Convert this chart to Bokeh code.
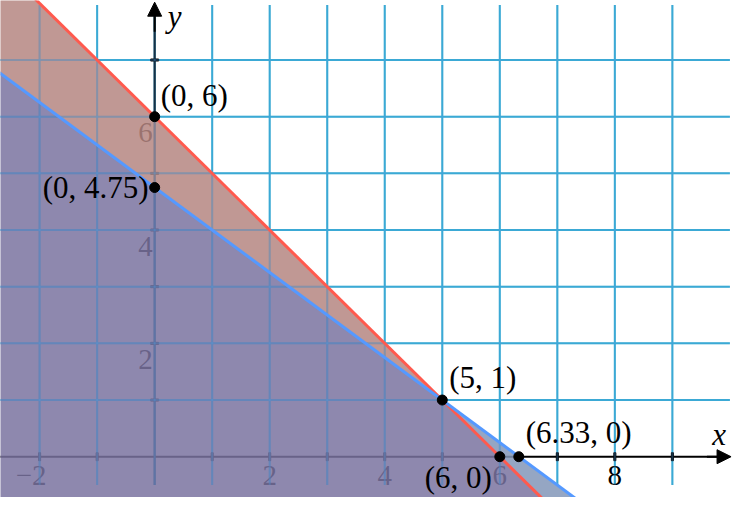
import numpy as np
from bokeh.plotting import figure
from bokeh.models import Range1d, Arrow, NormalHead
from bokeh.core.properties import value
from bokeh.embed import file_html
from bokeh.resources import INLINE

# ---- data ----
red_slope, red_intercept = -1.0, 6.0        # x + y = 6
blue_slope, blue_intercept = -0.75, 4.75    # 3x + 4y = 19
point_x = [0, 0, 5, 6, 6.33]
point_y = [6, 4.75, 1, 0, 0]
point_labels = ["(0, 6)", "(0, 4.75)", "(5, 1)", "(6, 0)", "(6.33, 0)"]
xtick_values = [-2, 2, 4, 6, 8]
xtick_labels = ["\u22122", "2", "4", "6", "8"]
ytick_values = [2, 4, 6]
ytick_labels = ["2", "4", "6"]
xtick_marks = [-2, -1, 1, 2, 3, 4, 5, 6, 7, 8, 9]
ytick_marks = [1, 2, 3, 4, 5, 6, 7]
grid_xs = list(range(-3, 10))
grid_ys = list(range(1, 8))

XMIN, XMAX, YMIN, YMAX = -2.68, 10.08, -0.72, 8.05
FONT = value("Liberation Serif")
GRID = "#36aecd"

p = figure(width=734, height=497, x_range=Range1d(XMIN, XMAX), y_range=Range1d(YMIN, YMAX),
           output_backend="svg", toolbar_location=None, min_border=0,
           x_axis_type=None, y_axis_type=None)
p.grid.visible = False
p.outline_line_color = None
p.background_fill_color = "white"

# grid
p.segment(x0=grid_xs, y0=[-0.5] * len(grid_xs), x1=grid_xs, y1=[7.97] * len(grid_xs),
          line_color=GRID, line_width=2)
p.segment(x0=[-3] * len(grid_ys), y0=grid_ys, x1=[10] * len(grid_ys), y1=grid_ys,
          line_color=GRID, line_width=2)

# axes (under fills)
p.segment(x0=[-3, 0], y0=[0, -0.5], x1=[9.9, 0], y1=[0, 7.85], line_color="black", line_width=2)
p.rect(x=xtick_marks, y=[0] * len(xtick_marks), width=2, height=8, width_units="screen",
       height_units="screen", color="black")
p.rect(x=[0] * len(ytick_marks), y=ytick_marks, width=8, height=2, width_units="screen",
       height_units="screen", color="black")

# tick labels
pos = [i for i, v in enumerate(xtick_values) if v >= 0]
neg = [i for i, v in enumerate(xtick_values) if v < 0]
p.text(x=[xtick_values[i] for i in pos], y=[0] * len(pos), text=[xtick_labels[i] for i in pos],
       text_font=FONT, text_font_size="29px", text_align="center", text_baseline="middle",
       y_offset=19, text_color="black")
p.text(x=[xtick_values[i] for i in neg], y=[0] * len(neg), text=[xtick_labels[i] for i in neg],
       text_font=FONT, text_font_size="29px", text_align="right", text_baseline="middle",
       x_offset=7, y_offset=19, text_color="black")
p.text(x=[0] * len(ytick_values), y=ytick_values, text=ytick_labels,
       text_font=FONT, text_font_size="29px", text_align="right", text_baseline="middle",
       x_offset=-2, y_offset=16, text_color="black")

# feasible regions
def red(x):
    return red_slope * x + red_intercept

def blue(x):
    return blue_slope * x + blue_intercept

xl, yb, yt = -3.0, -1.0, 9.5
xc = (blue_intercept - red_intercept) / (red_slope - blue_slope)
yc = red(xc)
x_red_b = (yb - red_intercept) / red_slope
x_blue_b = (yb - blue_intercept) / blue_slope
x_red_t = (yt - red_intercept) / red_slope

both = ([xl, xl, xc, x_red_b], [yb, blue(xl), yc, yb])
red_only = ([xl, xl, x_red_t, xc], [blue(xl), yt, yt, yc])
blue_only = ([xc, x_blue_b, x_red_b], [yc, yb, yb])
for (xs, ys), col in [(both, "#7a73a0"), (red_only, "#b58681"), (blue_only, "#8397b8")]:
    p.patch(xs, ys, fill_color=col, fill_alpha=0.85, line_color=None)

# grid overlay (visible through fills)
p.segment(x0=grid_xs, y0=[-0.5] * len(grid_xs), x1=grid_xs, y1=[7.97] * len(grid_xs),
          line_color="#4a9ee8", line_width=2, line_alpha=0.3)
p.segment(x0=[-3] * len(grid_ys), y0=grid_ys, x1=[10] * len(grid_ys), y1=grid_ys,
          line_color="#4a9ee8", line_width=2, line_alpha=0.3)

# boundary lines
lx = np.array([-4.0, 12.0])
p.line(lx, red(lx), line_color="#ff5a4e", line_width=3)
p.line(lx, blue(lx), line_color="#5599ff", line_width=3)

# points
p.scatter(point_x, point_y, size=10, color="black")

# point labels: (x_offset, y_offset, align)
styles = [(6, -21, "left"), (-6, 0, "right"), (7, -23, "left"), (-8, 21, "right"), (7, -24, "left")]
for i, (dx, dy, al) in enumerate(styles):
    p.text(x=[point_x[i]], y=[point_y[i]], text=[point_labels[i]], x_offset=dx, y_offset=dy,
           text_font=FONT, text_font_size="31px", text_align=al, text_baseline="middle",
           text_color="black")

# axis names
p.text(x=[0], y=[YMAX], text=["y"], x_offset=13, y_offset=16, text_font=FONT,
       text_font_style="italic", text_font_size="31px", text_align="left", text_baseline="middle")
p.text(x=[10], y=[0], text=["x"], x_offset=-4, y_offset=-22, text_font=FONT,
       text_font_style="italic", text_font_size="31px", text_align="right", text_baseline="middle")

# arrow heads
p.add_layout(Arrow(end=NormalHead(size=14, fill_color="black", line_color="black"),
                   x_start=9.6, y_start=0, x_end=10.02, y_end=0, line_color="black", line_width=2))
p.add_layout(Arrow(end=NormalHead(size=14, fill_color="black", line_color="black"),
                   x_start=0, y_start=7.5, x_end=0, y_end=8.02, line_color="black", line_width=2))

open("out.html", "w").write(file_html(p, INLINE))
